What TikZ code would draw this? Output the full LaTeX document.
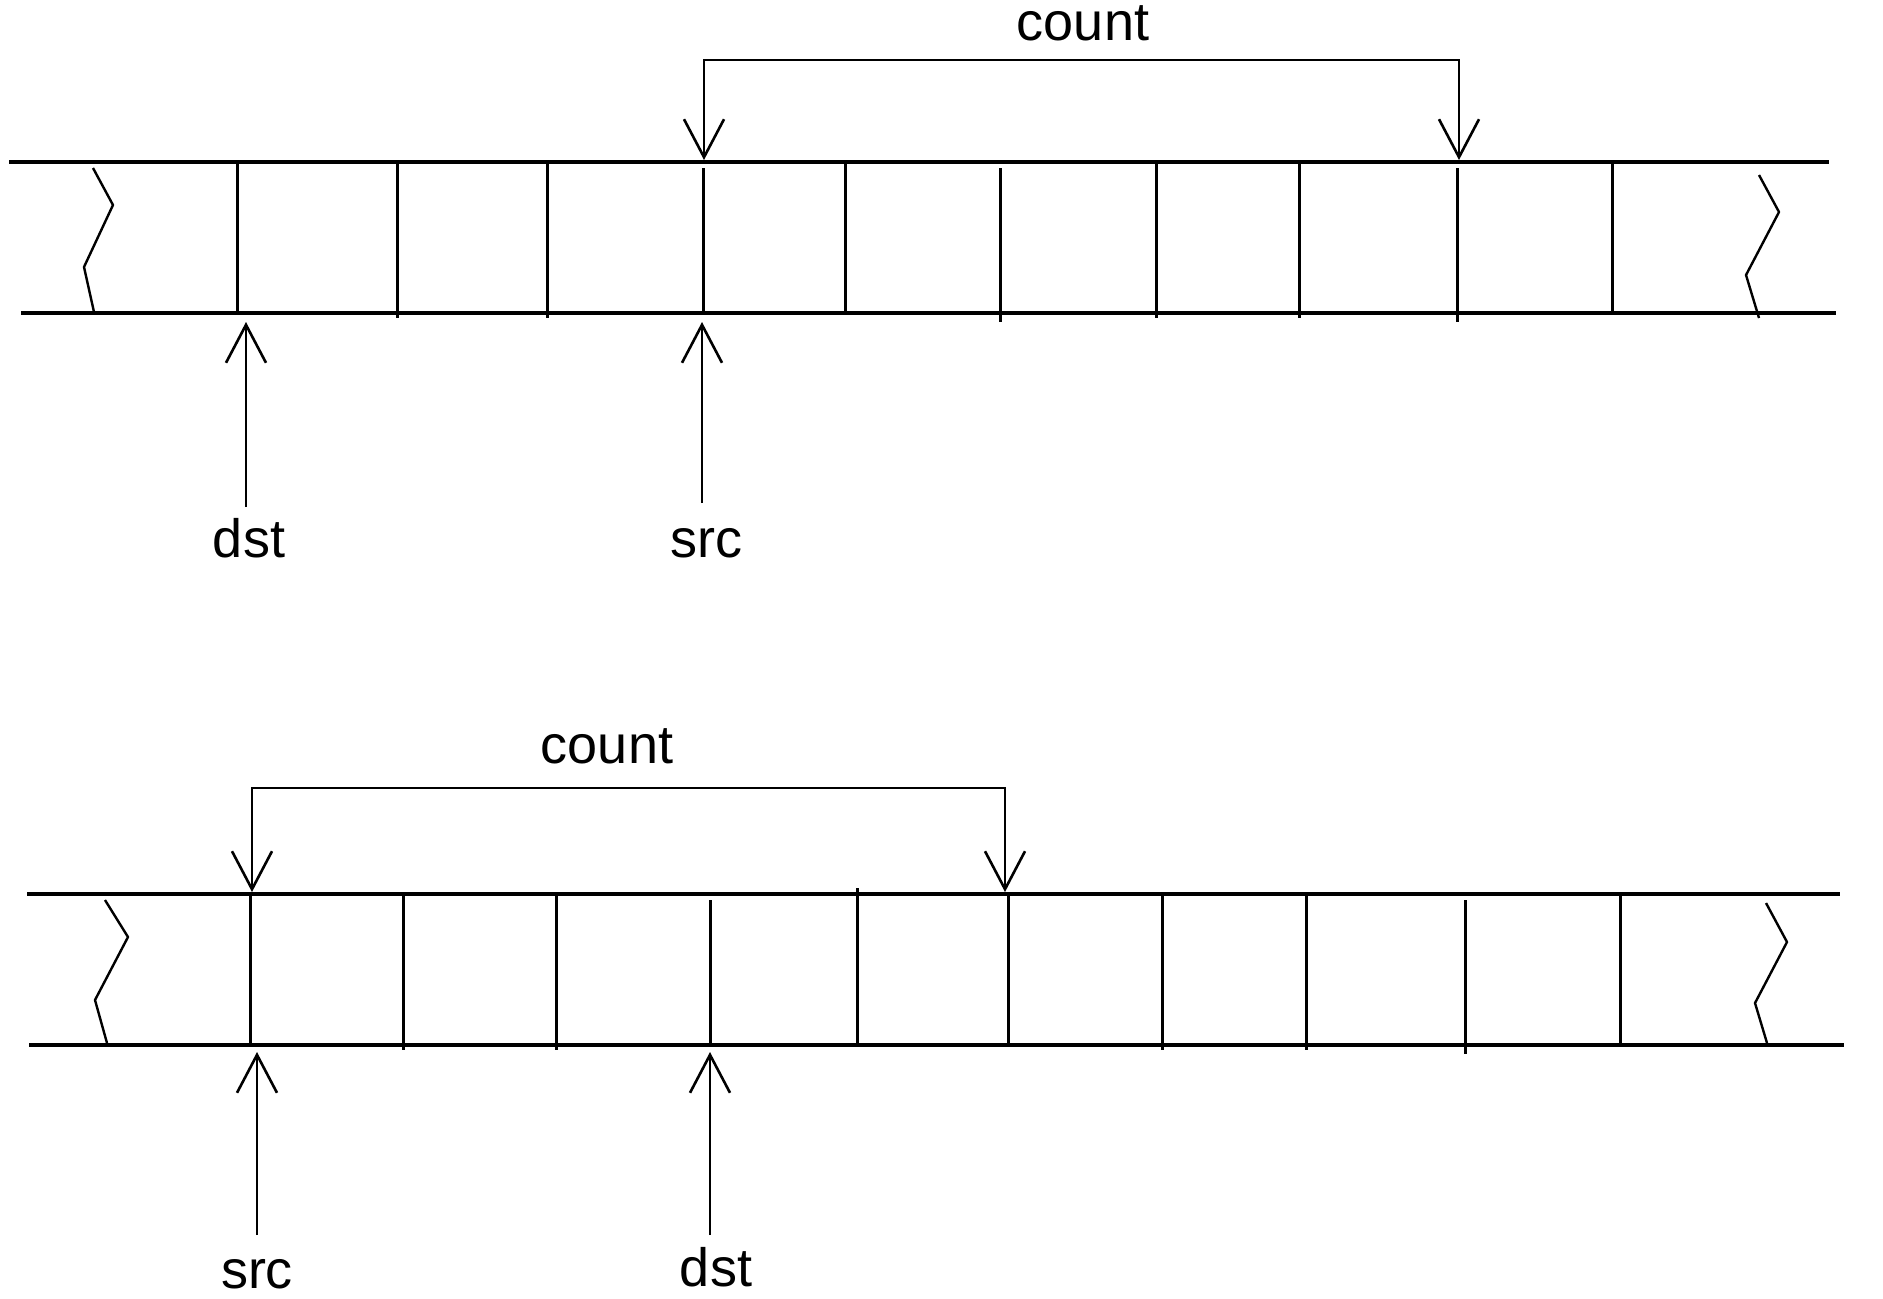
\documentclass[tikz,border=0pt]{standalone}
\usepackage{fontspec}
\setmainfont{Liberation Sans}
\usetikzlibrary{arrows.meta}
\tikzset{
  rail/.style={line width=1.9pt},
  divider/.style={line width=1.5pt},
  brk/.style={line width=1.2pt, line join=round},
  barb/.tip={Straight Barb[length=19pt,width=20pt,line width=1.3pt]},
  ptr/.style={line width=1.4pt, -barb},
  spanarr/.style={line width=1.4pt, barb-barb},
  lbl/.style={font=\fontsize{27}{32}\selectfont, inner sep=0pt, anchor=base}
}
\begin{document}
\begin{tikzpicture}[x=0.5pt,y=-0.5pt]
\useasboundingbox (0,0) rectangle (1883,1298);
% ---------- top strip ----------
\draw[rail] (9,162) -- (1829,162);
\draw[rail] (21,313) -- (1836,313);
\foreach \x/\a/\b in {237/162/313,397/162/318,547/162/318,703/168/313,845/162/313,1000/168/322,1156/162/318,1299/162/318,1457/168/322,1612/162/313}
  \draw[divider] (\x,\a) -- (\x,\b);
\draw[brk] (93,168) -- (113,205) -- (84,267) -- (94,312);
\draw[brk] (1759,175) -- (1779,212) -- (1746,275) -- (1759,318);
% count bracket (top)
\coordinate (tcL) at (704,160);
\coordinate (tcR) at (1459,160);
\coordinate (tcLup) at (704,60);
\coordinate (tcRup) at (1459,60);
\draw[spanarr] (tcL) -- (tcLup) -- (tcRup) -- (tcR);
\node[lbl] (count1) at (1083,40) {count};
% pointers (top)
\node[lbl] (dst1) at (249,557) {dst};
\coordinate (dst1tail) at (246,507);
\coordinate (dst1tip) at (246,322);
\draw[ptr] (dst1tail) -- (dst1tip);
\node[lbl] (src1) at (706,557) {src};
\coordinate (src1tail) at (702,503);
\coordinate (src1tip) at (702,322);
\draw[ptr] (src1tail) -- (src1tip);
% ---------- bottom strip ----------
\draw[rail] (27,894) -- (1840,894);
\draw[rail] (29,1045) -- (1844,1045);
\foreach \x/\a/\b in {250/894/1045,403/894/1050,556/894/1050,710/900/1045,857/888/1043,1008/894/1045,1162/894/1050,1306/894/1050,1465/900/1054,1620/894/1045}
  \draw[divider] (\x,\a) -- (\x,\b);
\draw[brk] (105,900) -- (128,937) -- (95,1000) -- (107,1043);
\draw[brk] (1766,903) -- (1787,942) -- (1755,1003) -- (1767,1043);
% count bracket (bottom)
\coordinate (bcL) at (252,892);
\coordinate (bcR) at (1005,892);
\coordinate (bcLup) at (252,788);
\coordinate (bcRup) at (1005,788);
\draw[spanarr] (bcL) -- (bcLup) -- (bcRup) -- (bcR);
\node[lbl] (count2) at (607,763) {count};
% pointers (bottom)
\node[lbl] (src2) at (257,1288) {src};
\coordinate (src2tail) at (257,1235);
\coordinate (src2tip) at (257,1052);
\draw[ptr] (src2tail) -- (src2tip);
\node[lbl] (dst2) at (716,1286) {dst};
\coordinate (dst2tail) at (710,1235);
\coordinate (dst2tip) at (710,1052);
\draw[ptr] (dst2tail) -- (dst2tip);
\end{tikzpicture}
\end{document}
